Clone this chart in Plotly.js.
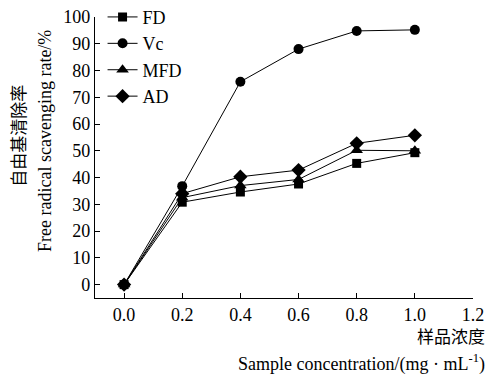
<!DOCTYPE html>
<html><head><meta charset="utf-8">
<script src="https://cdn.plot.ly/plotly-3.0.1.min.js"></script>
<style>html,body{margin:0;padding:0;background:#fff}#c{width:487px;height:374px}</style>
</head><body><div id="c"></div>
<script>
var conc = [0.0, 0.2, 0.4, 0.6, 0.8, 1.0];
var FD  = [0, 30.8, 34.6, 37.6, 45.3, 49.3];
var Vc  = [0, 36.8, 75.8, 88.0, 94.8, 95.2];
var MFD = [0, 32.5, 37.0, 39.3, 50.2, 50.0];
var AD  = [0, 34.0, 40.3, 42.8, 52.8, 55.8];
var names = ['FD', 'Vc', 'MFD', 'AD'];
var series = [FD, Vc, MFD, AD];
var symbols = ['square', 'circle', 'triangle-up', 'diamond'];
var sizes = [9, 10, 11, 11];
var yTicks = [0, 10, 20, 30, 40, 50, 60, 70, 80, 90, 100];
var xTicks = [0.0, 0.2, 0.4, 0.6, 0.8, 1.0, 1.2];
var serif = 'Liberation Serif, Times New Roman, serif';
var cjk = 'Noto Sans CJK SC, sans-serif';

var traces = series.map(function (s, i) {
  return {x: conc, y: s, name: names[i], type: 'scatter', mode: 'lines+markers',
    line: {color: '#000', width: 1},
    marker: {symbol: symbols[i], size: sizes[i], color: '#000'}};
});

var layout = {
  width: 487, height: 374,
  margin: {l: 95, r: 14, t: 17, b: 76, autoexpand: false},
  paper_bgcolor: '#fff', plot_bgcolor: '#fff',
  font: {family: serif, size: 18, color: '#000'},
  showlegend: true,
  legend: {x: 0.02, y: 1.065, xanchor: 'left', yanchor: 'top', bgcolor: 'rgba(0,0,0,0)',
    font: {family: serif, size: 18, color: '#000'}, itemwidth: 30, tracegroupgap: 0},
  xaxis: {range: [-0.1, 1.2], tickvals: xTicks, ticktext: xTicks.map(function(v){return v.toFixed(1);}),
    ticks: 'inside', ticklen: 5, tickwidth: 1, tickcolor: '#000', automargin: false,
    showline: true, linecolor: '#000', linewidth: 1.2, showgrid: false, zeroline: false,
    tickfont: {family: serif, size: 18, color: '#000'}},
  yaxis: {range: [-5, 100], tickvals: yTicks, ticks: 'inside', ticklen: 5, tickwidth: 1, tickcolor: '#000', automargin: false,
    showline: true, linecolor: '#000', linewidth: 1.2, showgrid: false, zeroline: false,
    tickfont: {family: serif, size: 18, color: '#000'}},
  annotations: [
    {text: '自由基清除率', xref: 'paper', yref: 'paper', x: -0.204, y: 0.577, xanchor: 'center', yanchor: 'middle',
      textangle: -90, showarrow: false, font: {family: cjk, size: 17, color: '#000'}},
    {text: 'Free radical scavenging rate/%', xref: 'paper', yref: 'paper', x: -0.132, y: 0.559,
      xanchor: 'center', yanchor: 'middle', textangle: -90, showarrow: false, font: {family: serif, size: 18, color: '#000'}},
    {text: '样品浓度', xref: 'paper', yref: 'paper', x: 1.035, y: -0.085, xanchor: 'right', yanchor: 'top',
      showarrow: false, borderpad: 0, font: {family: cjk, size: 17, color: '#000'}},
    {text: 'Sample concentration/(mg · mL<sup>-1</sup>)', xref: 'paper', yref: 'paper', x: 1.035, y: -0.185,
      xanchor: 'right', yanchor: 'top', showarrow: false, borderpad: 0, font: {family: serif, size: 18, color: '#000'}}
  ]
};
Plotly.newPlot('c', traces, layout, {staticPlot: true});
</script></body></html>
